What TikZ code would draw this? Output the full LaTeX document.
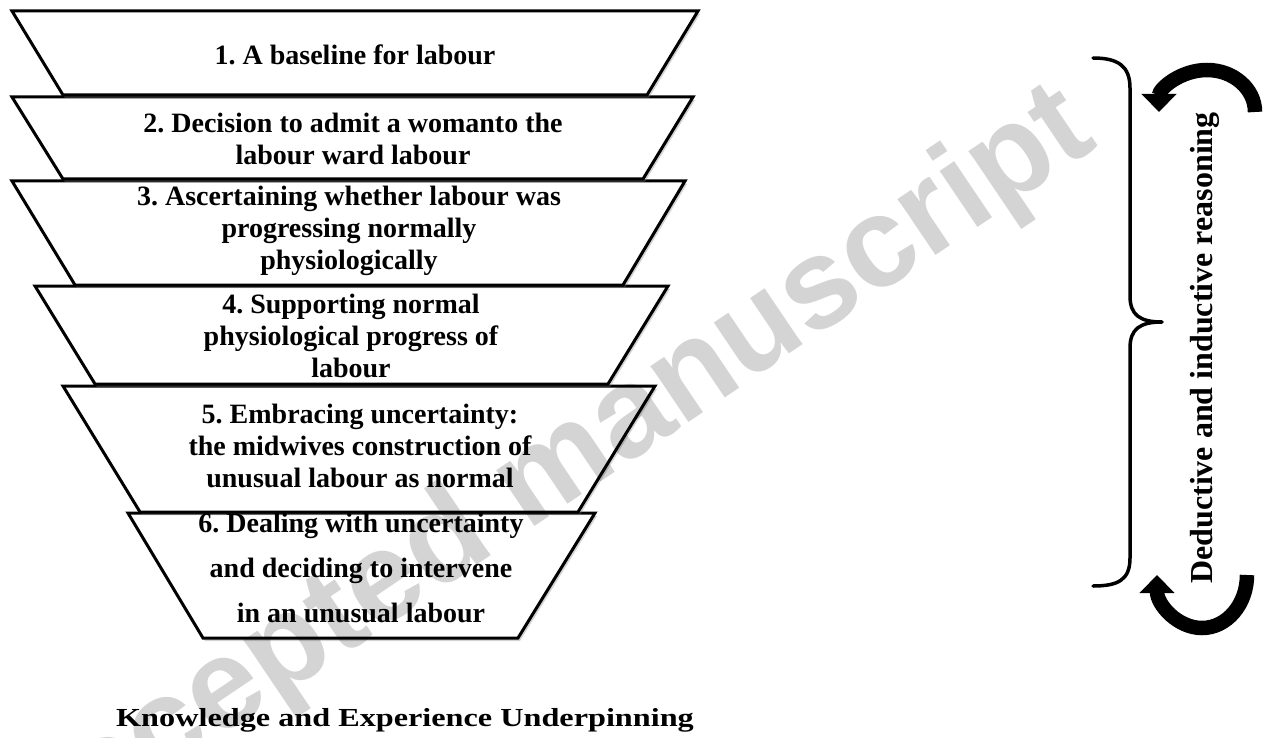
\documentclass[tikz,border=0pt]{standalone}
\usepackage{fontspec}
\setmainfont{Liberation Serif}
\newfontfamily\markfont{Liberation Sans}
\usetikzlibrary{shadows,arrows.meta}
\frenchspacing

\begin{document}
\begin{tikzpicture}[x=1pt,y=1pt,
  stage/.style={draw=black, line width=3pt, fill=white, line join=miter,
    drop shadow={shadow xshift=2pt, shadow yshift=-3pt, opacity=0.35}},
  stagetext/.style={font=\fontsize{28}{32}\selectfont\bfseries, align=center, inner sep=0pt},
  looparrow/.style={line width=14.5pt, -{Triangle[width=34pt,length=18pt]}},
  bracestyle/.style={line width=3.5pt, line cap=round, line join=round},
]
\useasboundingbox (0,0) rectangle (1263,-738);

% funnel of stages, drawn bottom-up so each upper stage lies on top
\path[stage] (128,-513) -- (595,-513) -- (518,-638) -- (203,-638) -- cycle;
\path[stage] (63,-386) -- (655,-386) -- (578,-512) -- (140,-512) -- cycle;
\path[stage] (35,-286) -- (668,-286) -- (608,-384) -- (95,-384) -- cycle;
\path[stage] (12,-181) -- (685,-181) -- (623,-285) -- (75,-285) -- cycle;
\path[stage] (12,-97) -- (693,-97) -- (643,-179) -- (63,-179) -- cycle;
\path[stage] (12,-11) -- (698,-11) -- (647,-95) -- (63,-95) -- cycle;

\node[stagetext] (t1) at (355,-55) {1. A baseline for labour};
\node[stagetext] (t2) at (353,-139) {2. Decision to admit a womanto the\\labour ward labour};
\node[stagetext] (t3) at (349,-231) {3. Ascertaining whether labour was\\progressing normally\\physiologically};
\node[stagetext] (t4) at (351,-336) {4. Supporting normal\\physiological progress of\\labour};
\node[stagetext] (t5) at (360,-446) {5. Embracing uncertainty:\\the midwives construction of\\unusual labour as normal};
\node[stagetext, font=\fontsize{28}{45}\selectfont\bfseries] (t6) at (361,-568)
  {6. Dealing with uncertainty\\and deciding to intervene\\in an unusual labour};

% caption under the funnel
\node[font=\fontsize{26}{26}\selectfont\bfseries, anchor=base, inner sep=0pt] (base) at (405,-726)
  {\scalebox{1.24}[1]{Knowledge and Experience Underpinning}};

% brace spanning the stages
\draw[bracestyle] (1093,-58) .. controls (1118,-58) and (1130,-66) .. (1130,-88)
  -- (1130,-296) .. controls (1130,-315) and (1140,-322) .. (1162,-322)
  .. controls (1140,-322) and (1130,-329) .. (1130,-348)
  -- (1130,-558) .. controls (1130,-580) and (1118,-586) .. (1093,-586);

% reasoning label and circular arrows
\node[font=\fontsize{32}{32}\selectfont\bfseries, rotate=90, anchor=base, inner sep=0pt] (reason) at (1212,-348)
  {Deductive and inductive reasoning};
\draw[looparrow] (1255,-112) arc[start angle=0, end angle=180, x radius=48, y radius=42];
\draw[looparrow] (1247,-575) arc[start angle=0, end angle=-180, x radius=45, y radius=53];

% watermark
\begin{scope}[blend mode=multiply]
\node[font=\markfont\fontsize{128}{128}\selectfont\bfseries, text=black!17, rotate=34,
  anchor=base east, inner sep=0pt] (mark) at (1100,-145) {Accepted manuscript};
\end{scope}
\end{tikzpicture}
\end{document}
